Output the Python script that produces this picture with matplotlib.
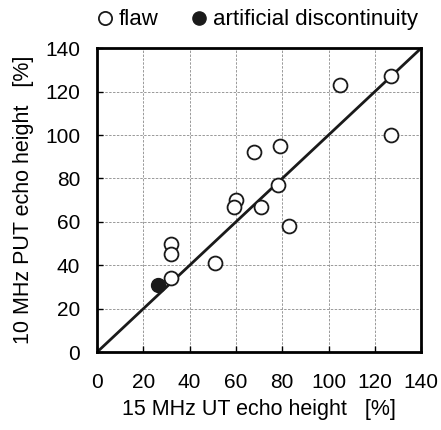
import matplotlib
matplotlib.use("Agg")
import matplotlib.pyplot as plt

plt.rcParams['font.family'] = ['Liberation Sans', 'DejaVu Sans']

# 15 MHz UT echo height vs 10 MHz PUT echo height [%]
flaw_ut = [127, 105, 127, 79, 68, 78, 60, 59, 71, 83, 32, 32, 51, 32]
flaw_put = [127, 123, 100, 95, 92, 77, 70, 67, 67, 58, 50, 45, 41, 34]
art_ut = [26.5]
art_put = [31]
ticks = [0, 20, 40, 60, 80, 100, 120, 140]

fig = plt.figure(figsize=(4.41, 4.30), dpi=100)
ax = fig.add_axes([0.22, 0.181, 0.735, 0.707])

ax.plot([0, 140], [0, 140], color='#1a1a1a', lw=2, zorder=2)
ax.plot(flaw_ut, flaw_put, 'o', ms=10, mfc='white', mec='#1a1a1a', mew=1.3,
        ls='none', zorder=3, label='flaw')
ax.plot(art_ut, art_put, 'o', ms=10, mfc='#1a1a1a', mec='#1a1a1a',
        ls='none', zorder=3, label='artificial discontinuity')

ax.set_xlim(0, 140)
ax.set_ylim(0, 140)
ax.set_xticks(ticks)
ax.set_yticks(ticks)
ax.tick_params(direction='in', length=4, width=1, labelsize=15)
ax.tick_params(axis='x', pad=15)
ax.tick_params(axis='y', pad=12)
ax.grid(True, ls=(0, (2.5, 1.5)), color='#999999', lw=0.7)
for s in ax.spines.values():
    s.set_linewidth(2)

ax.set_xlabel('15 MHz UT echo height   [%]', fontsize=15.5, labelpad=5)
ax.set_ylabel('10 MHz PUT echo height   [%]', fontsize=15.5, labelpad=8)

ax.legend(loc='lower center', bbox_to_anchor=(0.49, 1.0), ncol=2, frameon=False,
          fontsize=16, handletextpad=0.15, columnspacing=1.3, borderaxespad=0.4,
          markerscale=0.95, handlelength=1)

fig.savefig('out.png', dpi=100)
